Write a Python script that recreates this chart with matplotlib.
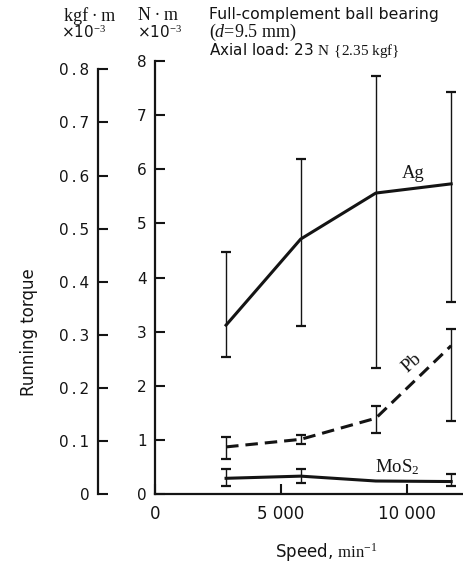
import numpy as np
import matplotlib
matplotlib.use("Agg")
import matplotlib.pyplot as plt

plt.rcParams['font.family'] = ['DejaVu Sans']
plt.rcParams['mathtext.fontset'] = 'custom'
plt.rcParams['mathtext.rm'] = 'Liberation Serif'
plt.rcParams['mathtext.it'] = 'Liberation Serif:italic'
plt.rcParams['mathtext.sf'] = 'DejaVu Sans'
plt.rcParams['lines.scale_dashes'] = False

# speed, min^-1
speed = [2820, 5780, 8760, 11750]

# running torque, N*m x 10^-3 (mean, upper and lower end of scatter)
ag = [3.12, 4.71, 5.56, 5.73]
ag_hi = [4.47, 6.19, 7.73, 7.42]
ag_lo = [2.54, 3.10, 2.33, 3.55]

pb = [0.87, 1.01, 1.40, 2.74]
pb_hi = [1.05, 1.09, 1.63, 3.05]
pb_lo = [0.65, 0.92, 1.12, 1.34]

mos2 = [0.29, 0.33, 0.24, 0.23]
mos2_hi = [0.46, 0.46, np.nan, 0.37]
mos2_lo = [0.14, 0.21, np.nan, 0.14]

nm_ticks = [0, 1, 2, 3, 4, 5, 6, 7, 8]
kgf_ticks = [0, 0.1, 0.2, 0.3, 0.4, 0.5, 0.6, 0.7, 0.8]
speed_ticks = [0, 5000, 10000]
speed_labels = ["0", "5 000", "10 000"]

G = 9.80665
ink = '#141414'

W, H = 463, 564
fig = plt.figure(figsize=(W / 100, H / 100), dpi=100)


def fx(px):
    return px / W


def fy(py):
    return 1 - py / H


rect = [fx(155), fy(494), fx(463) - fx(155), fy(61) - fy(494)]
ax = fig.add_axes(rect)
ax.set_xlim(0, 12220)
ax.set_ylim(0, 8)

for s in ['top', 'right']:
    ax.spines[s].set_visible(False)
for s in ['left', 'bottom']:
    ax.spines[s].set_linewidth(1.6)
    ax.spines[s].set_color(ink)

ax.set_yticks(nm_ticks)
ax.set_yticklabels([str(t) for t in nm_ticks])
ax.set_xticks(speed_ticks)
ax.set_xticklabels(speed_labels)
ax.tick_params(axis='y', direction='in', length=7.5, width=1.5, colors=ink,
               labelsize=11, pad=6)
ax.tick_params(axis='x', direction='in', length=7, width=1.5, colors=ink,
               labelsize=12, pad=8)


def draw(y, hi, lo, **kw):
    y = np.array(y)
    err = [y - np.array(lo), np.array(hi) - y]
    ax.errorbar(speed, y, yerr=err, fmt='none', ecolor=ink, elinewidth=1.0,
                capsize=3.6, capthick=1.6, zorder=2)
    ax.plot(speed, y, color=ink, lw=2.2, zorder=3, **kw)


draw(ag, ag_hi, ag_lo)
draw(pb, pb_hi, pb_lo, dashes=(9, 5))
draw(mos2, mos2_hi, mos2_lo)

ax.text(10240, 5.92, "Ag", fontfamily='Liberation Serif', fontsize=13.5,
        ha='center', va='center', color=ink)
ax.text(10180, 2.42, "Pb", fontfamily='Liberation Serif', fontsize=13.5,
        ha='center', va='center', rotation=42, color=ink)
ax.text(9620, 0.5, r"$\mathrm{MoS_2}$", fontsize=13.5,
        ha='center', va='center', color=ink)

# second torque scale in kgf*m
ax2 = fig.add_axes(rect)
ax2.patch.set_visible(False)
ax2.set_ylim(0, 8 / G)
ax2.set_xticks([])
for s in ['top', 'right', 'bottom']:
    ax2.spines[s].set_visible(False)
ax2.spines['left'].set_position(('axes', -57.3 / 308))
ax2.spines['left'].set_bounds(0, 0.8)
ax2.spines['left'].set_linewidth(1.6)
ax2.spines['left'].set_color(ink)
ax2.set_yticks(kgf_ticks)
ax2.set_yticklabels(["0"] + [f"{t:.1f}".replace(".", "\u2009.\u2009") for t in kgf_ticks[1:]])
ax2.tick_params(axis='y', direction='in', length=7.5, width=1.5, colors=ink,
                labelsize=11, pad=6)

# unit headers and test conditions
fig.text(fx(90), fy(16), "kgf\u2009·\u2009m", fontfamily='Liberation Serif',
         fontsize=13, ha='center', va='center', color=ink)
fig.text(fx(84), fy(32), r"×10$^{-3}$", fontsize=11, ha='center',
         va='center', color=ink)
fig.text(fx(158), fy(16), "N\u2009·\u2009m", fontfamily='Liberation Serif',
         fontsize=13, ha='center', va='center', color=ink)
fig.text(fx(160), fy(32), r"×10$^{-3}$", fontsize=11, ha='center',
         va='center', color=ink)

fig.text(fx(209), fy(15), "Full-complement ball bearing", fontsize=11.3,
         ha='left', va='center', color=ink)
fig.text(fx(209), fy(32), r"($d$=9.5 mm)", fontfamily='Liberation Serif',
         fontsize=13, ha='left', va='center', color=ink)
fig.text(fx(209), fy(50), r"Axial load: 23 $\mathrm{N}$ $\{\mathrm{2.35\ kgf}\}$",
         fontsize=11, ha='left', va='center', color=ink)

fig.text(fx(29), fy(332), "Running torque", fontsize=12, rotation=90,
         ha='center', va='center', color=ink)
fig.text(fx(326), fy(552), r"Speed, $\mathrm{min}^{-1}$", fontsize=12,
         ha='center', va='center', color=ink)

fig.savefig("out.png", dpi=100, facecolor='white')
